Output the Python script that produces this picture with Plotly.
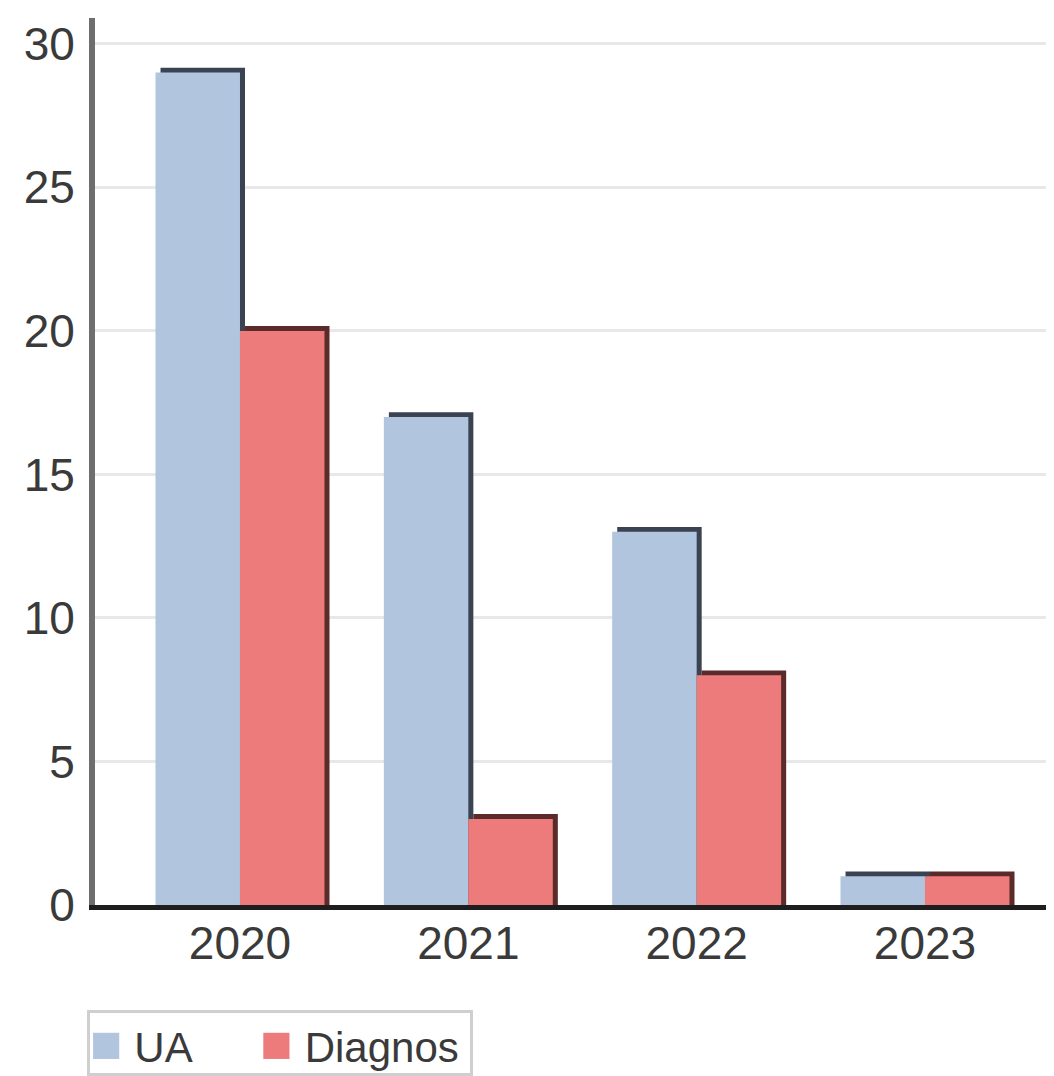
import plotly.graph_objects as go

years = ["2020", "2021", "2022", "2023"]
ua_values = [29, 17, 13, 1]
diagnos_values = [20, 3, 8, 1]
series_names = ["UA", "Diagnos"]
y_ticks = [0, 5, 10, 15, 20, 25, 30]

UA_COLOR = "#b1c5df"
UA_EDGE = "#3b4352"
DI_COLOR = "#ee7b7b"
DI_EDGE = "#5b2a2a"

BAR_W = 0.37
SHADOW_DX = 0.022
SHADOW_DY = 0.17

fig = go.Figure()

def add_series(values, name, color, edge, offset):
    # shadow (right/top dark edge)
    fig.add_trace(go.Bar(
        x=years, y=[v + SHADOW_DY for v in values], width=BAR_W,
        offset=offset + SHADOW_DX, marker=dict(color=edge, line=dict(width=0)),
        showlegend=False, hoverinfo="skip"))
    fig.add_trace(go.Bar(
        x=years, y=values, width=BAR_W, offset=offset, name=name,
        marker=dict(color=color, line=dict(width=0)), showlegend=False))

add_series(ua_values, series_names[0], UA_COLOR, UA_EDGE, -BAR_W)
add_series(diagnos_values, series_names[1], DI_COLOR, DI_EDGE, 0.0)

font_family = "Liberation Sans, Arial, sans-serif"

legend_text = (f"<span style='color:{UA_COLOR};font-size:54px'>■</span> {series_names[0]}"
               f"      <span style='color:{DI_COLOR};font-size:54px'>■</span> {series_names[1]} ")

fig.update_layout(
    width=1054, height=1076,
    margin=dict(l=87, r=8, t=10, b=179),
    paper_bgcolor="white", plot_bgcolor="white",
    barmode="overlay",
    font=dict(family=font_family, size=46, color="#3a3a3a"),
    showlegend=False,
    xaxis=dict(
        type="category", range=[-0.635, 3.565],
        showline=True, linecolor="#1e1e1e", linewidth=5,
        showgrid=False, ticks="", ticklabelstandoff=-6,
        tickfont=dict(size=46),
    ),
    yaxis=dict(
        range=[0, 30.9], tickvals=y_ticks,
        showline=True, linecolor="#6e6e6e", linewidth=6,
        showgrid=True, gridcolor="#e8e8e8", gridwidth=3,
        zeroline=False, ticks="", ticklabelstandoff=5,
        tickfont=dict(size=46),
    ),
    annotations=[dict(
        xref="paper", yref="paper", x=-0.008, y=-0.118,
        xanchor="left", yanchor="top", showarrow=False,
        text=legend_text, align="left",
        font=dict(size=42, family=font_family, color="#3a3a3a"),
        bordercolor="#cfcfcf", borderwidth=3, borderpad=0, bgcolor="white",
    )],
)

fig.write_html("out.html")
